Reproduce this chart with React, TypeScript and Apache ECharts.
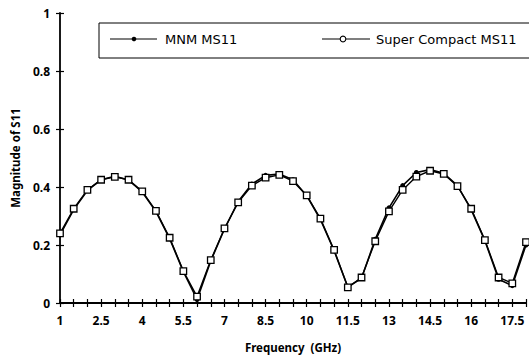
import React, { useEffect, useRef } from "react";
import * as echarts from "echarts";

const freqGHz = [1, 1.5, 2, 2.5, 3, 3.5, 4, 4.5, 5, 5.5, 6, 6.5, 7, 7.5, 8, 8.5, 9, 9.5, 10, 10.5, 11, 11.5, 12, 12.5, 13, 13.5, 14, 14.5, 15, 15.5, 16, 16.5, 17, 17.5, 18];
const mnmMS11 = [0.235, 0.322, 0.388, 0.425, 0.437, 0.424, 0.383, 0.315, 0.222, 0.108, 0.012, 0.145, 0.255, 0.35, 0.41, 0.44, 0.445, 0.425, 0.37, 0.288, 0.18, 0.055, 0.085, 0.22, 0.328, 0.405, 0.45, 0.46, 0.447, 0.405, 0.322, 0.215, 0.082, 0.06, 0.2];
const superCompactMS11 = [0.24, 0.325, 0.39, 0.425, 0.435, 0.425, 0.385, 0.318, 0.225, 0.11, 0.022, 0.148, 0.257, 0.347, 0.405, 0.432, 0.442, 0.42, 0.371, 0.291, 0.183, 0.054, 0.088, 0.213, 0.316, 0.39, 0.436, 0.456, 0.445, 0.403, 0.325, 0.217, 0.088, 0.068, 0.21];
const xLabelTicks = [1, 2.5, 4, 5.5, 7, 8.5, 10, 11.5, 13, 14.5, 16, 17.5];
const seriesNames = ["MNM MS11", "Super Compact MS11"];

const FONT = "Noto Sans";
const LEGEND_FONT = "DejaVu Sans";

export default function App() {
  const ref = useRef<HTMLDivElement>(null);
  useEffect(() => {
    if (!ref.current) return;
    const chart = echarts.init(ref.current, null, { renderer: "svg" });
    const tickLabel = {
      color: "#000",
      fontFamily: FONT,
      fontWeight: "bold" as const,
      fontSize: 12,
    };
    const xCommon = {
      type: "value" as const,
      min: 1,
      max: 18,
      interval: 0.5,
      splitLine: { show: false },
    };
    const yCommon = {
      type: "value" as const,
      min: 0,
      max: 1,
      interval: 0.2,
      splitLine: { show: false },
    };
    const toData = (vals: number[]) => freqGHz.map((f, i) => [f, vals[i]]);
    chart.setOption({
      animation: false,
      backgroundColor: "#fff",
      grid: { left: 60, right: -2, top: 13, bottom: 53, containLabel: false },
      xAxis: [
        {
          ...xCommon,
          name: "Frequency  (GHz)",
          nameLocation: "middle",
          nameGap: 38,
          nameTextStyle: { color: "#000", fontFamily: FONT, fontWeight: "bold", fontSize: 11.5 },
          axisLine: { show: true, onZero: false, lineStyle: { color: "#000", width: 1.8 } },
          axisTick: { show: true, inside: false, length: 4, lineStyle: { color: "#000", width: 1.2 } },
          axisLabel: {
            ...tickLabel,
            margin: 11,
            formatter: (v: number) =>
              xLabelTicks.some((t) => Math.abs(t - v) < 1e-6) ? String(v) : "",
          },
        },
        {
          ...xCommon,
          position: "bottom",
          axisLine: { show: false },
          axisTick: { show: true, inside: true, length: 4, lineStyle: { color: "#000", width: 1.2 } },
          axisLabel: { show: false },
        },
      ],
      yAxis: [
        {
          ...yCommon,
          name: "Magnitude of S11",
          nameLocation: "middle",
          nameGap: 39,
          nameTextStyle: { color: "#000", fontFamily: FONT, fontWeight: "bold", fontSize: 11.5 },
          axisLine: { show: true, onZero: false, lineStyle: { color: "#000", width: 1.8 } },
          axisTick: { show: true, inside: false, length: 4, lineStyle: { color: "#000", width: 1.2 } },
          axisLabel: { ...tickLabel, margin: 10, formatter: (v: number) => String(v) },
        },
        {
          ...yCommon,
          position: "left",
          axisLine: { show: false },
          axisTick: { show: true, inside: true, length: 4, lineStyle: { color: "#000", width: 1.2 } },
          axisLabel: { show: false },
        },
      ],
      series: [
        {
          name: seriesNames[0],
          type: "line",
          xAxisIndex: 0,
          yAxisIndex: 0,
          data: toData(mnmMS11),
          symbol: "circle",
          symbolSize: 5,
          itemStyle: { color: "#000" },
          lineStyle: { color: "#000", width: 1.6 },
          clip: true,
          z: 2,
        },
        {
          name: seriesNames[1],
          type: "line",
          xAxisIndex: 0,
          yAxisIndex: 0,
          data: toData(superCompactMS11),
          symbol: "rect",
          symbolSize: 6.5,
          showAllSymbol: true,
          itemStyle: { color: "#fff", borderColor: "#000", borderWidth: 1.3 },
          lineStyle: { color: "#000", width: 1.4 },
          clip: true,
          z: 3,
        },
      ],
      graphic: [
        {
          type: "rect",
          shape: { x: 99, y: 23, width: 520, height: 35 },
          style: { fill: "#fff", stroke: "#000", lineWidth: 1 },
          z: 10,
        },
        {
          type: "line",
          shape: { x1: 110, y1: 39, x2: 157, y2: 39 },
          style: { stroke: "#000", lineWidth: 1.2 },
          z: 11,
        },
        {
          type: "circle",
          shape: { cx: 134, cy: 39, r: 2.3 },
          style: { fill: "#000" },
          z: 12,
        },
        {
          type: "text",
          x: 165,
          y: 39,
          style: {
            text: seriesNames[0],
            fill: "#000",
            font: `13px "${LEGEND_FONT}"`,
            verticalAlign: "middle",
            align: "left",
          },
          z: 12,
        },
        {
          type: "line",
          shape: { x1: 322, y1: 39, x2: 370, y2: 39 },
          style: { stroke: "#000", lineWidth: 1.2 },
          z: 11,
        },
        {
          type: "circle",
          shape: { cx: 343, cy: 39, r: 2.8 },
          style: { fill: "#fff", stroke: "#000", lineWidth: 1.1 },
          z: 12,
        },
        {
          type: "text",
          x: 376,
          y: 39,
          style: {
            text: seriesNames[1],
            fill: "#000",
            font: `13px "${LEGEND_FONT}"`,
            verticalAlign: "middle",
            align: "left",
          },
          z: 12,
        },
      ],
    });
    return () => chart.dispose();
  }, []);
  return (
    <div
      ref={ref}
      style={{ position: "fixed", left: 0, top: 0, width: 529, height: 358, background: "#fff" }}
    />
  );
}
